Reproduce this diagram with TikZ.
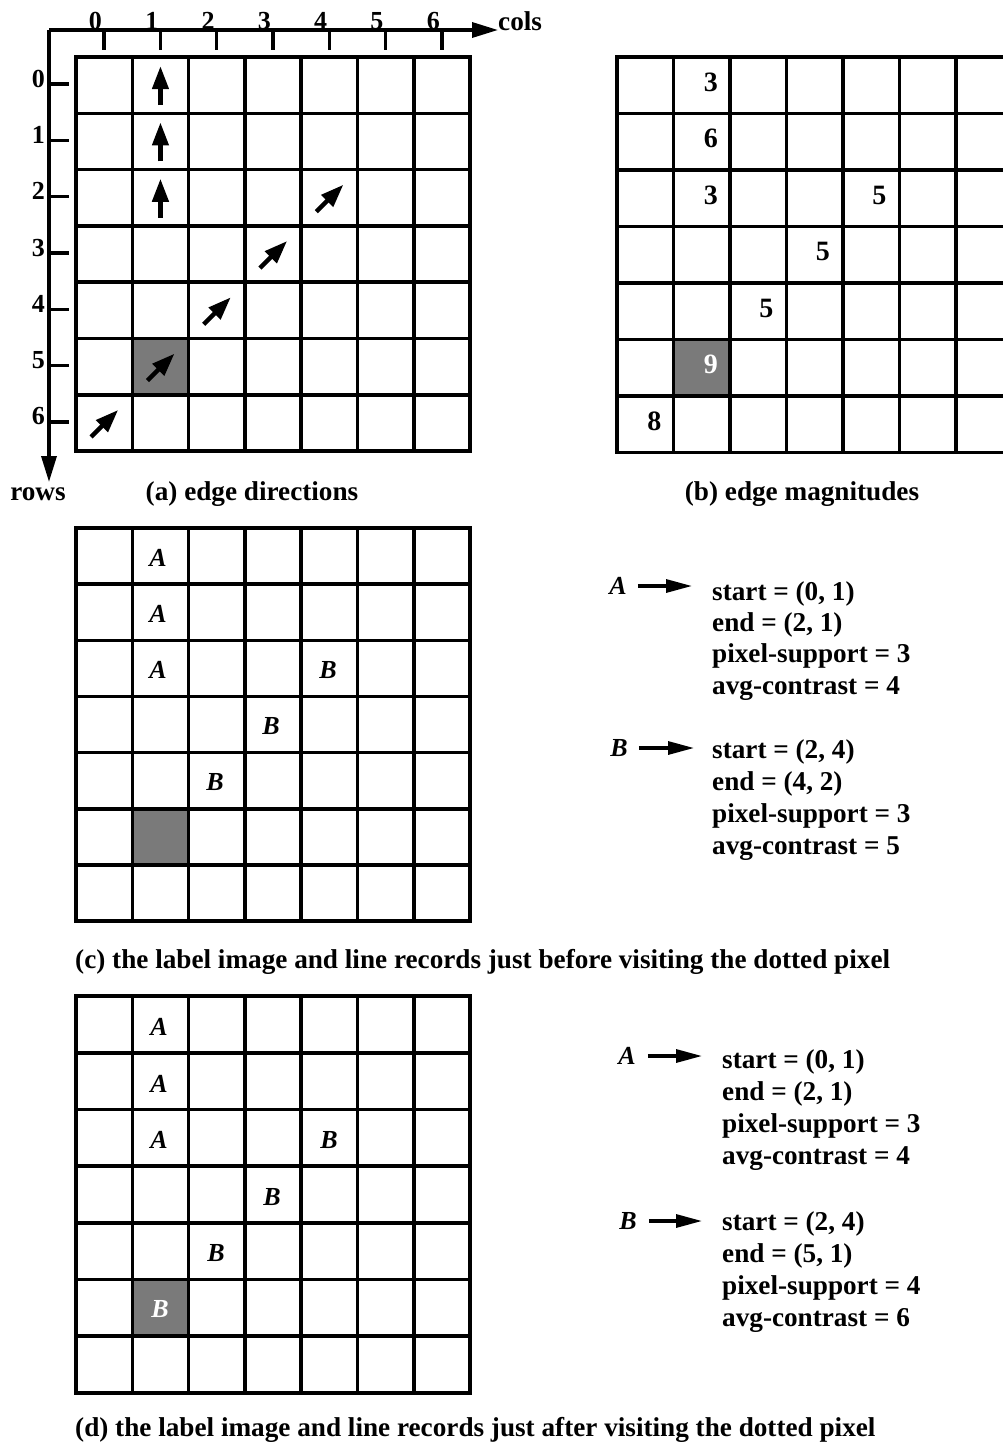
\documentclass[tikz,border=0pt]{standalone}
\usepackage{fontspec}
\setmainfont{Liberation Serif}
\usetikzlibrary{arrows.meta}
\tikzset{
  gridline/.style={line width=3.6pt, line cap=rect},
  shadedcell/.style={fill=black!52},
  txt/.style={font=\fontsize{27.2}{32}\selectfont\bfseries, inner sep=0pt},
  axnum/.style={font=\fontsize{26}{31}\selectfont\bfseries, inner sep=0pt},
  num/.style={font=\fontsize{28}{33}\selectfont\bfseries, inner sep=0pt},
  lab/.style={font=\fontsize{26}{31}\selectfont\bfseries\itshape, inner sep=0pt},
  dirarrow/.style={line width=4.4pt, -{Triangle[length=23pt,width=16pt]}},
  axisline/.style={line width=3.4pt, -{Triangle[length=26pt,width=15pt]}},
  tick/.style={line width=3.4pt},
  recarrow/.style={line width=3.2pt, -{Triangle[length=26pt,width=13pt]}},
  rec/.style={font=\fontsize{27.2}{32}\selectfont\bfseries, inner sep=0pt, anchor=base west}
}
\newcommand\mygrid[4]{%
  \foreach \i in {0,...,7} {
    \draw[gridline] ({#1+\i*#3}, #2) -- ({#1+\i*#3}, {#2+7*#4});
    \draw[gridline] (#1, {#2+\i*#4}) -- ({#1+7*#3}, {#2+\i*#4});
  }%
}
\begin{document}
\begin{tikzpicture}[x=1pt,y=-1pt]
\useasboundingbox (0,0) rectangle (1003,1446);
\clip (0,0) rectangle (1003,1446);

% ---------- (a) edge directions ----------
\fill[shadedcell] (132.3,338.3) rectangle (188.6,394.6);
\mygrid{76}{57}{56.3}{56.3}
% axes
\coordinate (origin) at (49,30);
\node[txt, anchor=base west] (cols) at (498,30) {cols};
\coordinate (rowsend) at (49,482);
\node[txt, anchor=base] (rows) at (38,500) {rows};
\draw[axisline] (origin) -- (cols.base west);
\draw[axisline] (origin) -- (rowsend);
\foreach \c/\x in {0/104.15,1/160.45,2/216.75,3/273.05,4/329.35,5/385.65,6/441.95} {
  \coordinate (ct\c) at (\x,30);
  \draw[tick] (ct\c) -- ++(0,20);
  \node[axnum, anchor=base east] (cl\c) at ({\x-2},29) {\c};
}
\foreach \r/\y in {0/85.15,1/141.45,2/197.75,3/254.05,4/310.35,5/366.65,6/422.95} {
  \coordinate (rt\r) at (49,{\y-1});
  \draw[tick] (rt\r) -- ++(20,0);
  \node[axnum, anchor=base east] (rl\r) at (45,{\y+2}) {\r};
}
% direction arrows
\foreach \y in {85.15,141.45,197.75} {
  \draw[dirarrow] (160.45,{\y+20}) -- (160.45,{\y-19});
}
\foreach \x/\y in {329.35/197.75,273.05/254.05,216.75/310.35,160.45/366.65,104.15/422.95} {
  \draw[dirarrow] ({\x-13},{\y+14}) -- ({\x+14},{\y-13});
}
\node[txt, anchor=base] (capa) at (252,500) {(a) edge directions};

% ---------- (b) edge magnitudes ----------
\fill[shadedcell] (673.5,339.5) rectangle (730,396);
\mygrid{617}{57}{56.5}{56.5}
\node[num] (b01) at (710.75,82.25) {3};
\node[num] (b11) at (710.75,138.75) {6};
\node[num] (b21) at (710.75,195.25) {3};
\node[num] (b24) at (879.25,195.25) {5};
\node[num] (b33) at (822.75,251.75) {5};
\node[num] (b42) at (766.25,308.25) {5};
\node[num, text=white] (b51) at (710.75,364.75) {9};
\node[num] (b60) at (654.25,421.25) {8};
\node[txt, anchor=base] (capb) at (802,500) {(b) edge magnitudes};

% ---------- (c) before ----------
\fill[shadedcell] (132.3,808.7) rectangle (188.6,864.9);
\mygrid{76}{528}{56.3}{56.15}
\node[lab] (c01) at (158,558) {A};
\node[lab] (c11) at (158,614) {A};
\node[lab] (c21) at (158,670) {A};
\node[lab] (c24) at (328,670) {B};
\node[lab] (c33) at (271,726) {B};
\node[lab] (c42) at (215,782) {B};

\node[lab] (cA) at (618,586) {A};
\node[rec] (cA1) at (712,600) {start = (0, 1)};
\node[rec] (cA2) at (712,631) {end = (2, 1)};
\node[rec] (cA3) at (712,662) {pixel-support = 3};
\node[rec] (cA4) at (712,694) {avg-contrast = 4};
\draw[recarrow, shorten <=11pt, shorten >=20pt] (cA.east) -- (cA.east -| cA1.west);

\node[lab] (cB) at (619,748) {B};
\node[rec] (cB1) at (712,758) {start = (2, 4)};
\node[rec] (cB2) at (712,790) {end = (4, 2)};
\node[rec] (cB3) at (712,822) {pixel-support = 3};
\node[rec] (cB4) at (712,854) {avg-contrast = 5};
\draw[recarrow, shorten <=11pt, shorten >=18pt] (cB.east) -- (cB.east -| cB1.west);

\node[txt, anchor=base west] (capc) at (75,968) {(c) the label image and line records just before visiting the dotted pixel};

% ---------- (d) after ----------
\fill[shadedcell] (132.3,1279.5) rectangle (188.6,1336.2);
\mygrid{76}{996}{56.3}{56.7}
\node[lab] (d01) at (159,1027) {A};
\node[lab] (d11) at (159,1084) {A};
\node[lab] (d21) at (159,1140) {A};
\node[lab] (d24) at (329,1140) {B};
\node[lab] (d33) at (272,1197) {B};
\node[lab] (d42) at (216,1253) {B};
\node[lab, text=white] (d51) at (160,1309) {B};

\node[lab] (dA) at (627,1056) {A};
\node[rec] (dA1) at (722,1068) {start = (0, 1)};
\node[rec] (dA2) at (722,1100) {end = (2, 1)};
\node[rec] (dA3) at (722,1132) {pixel-support = 3};
\node[rec] (dA4) at (722,1164) {avg-contrast = 4};
\draw[recarrow, shorten <=12pt, shorten >=20pt] (dA.east) -- (dA.east -| dA1.west);

\node[lab] (dB) at (628,1221) {B};
\node[rec] (dB1) at (722,1230) {start = (2, 4)};
\node[rec] (dB2) at (722,1262) {end = (5, 1)};
\node[rec] (dB3) at (722,1294) {pixel-support = 4};
\node[rec] (dB4) at (722,1326) {avg-contrast = 6};
\draw[recarrow, shorten <=12pt, shorten >=20pt] (dB.east) -- (dB.east -| dB1.west);

\node[txt, anchor=base west] (capd) at (75,1436) {(d) the label image and line records just after visiting the dotted pixel};
\end{tikzpicture}
\end{document}
